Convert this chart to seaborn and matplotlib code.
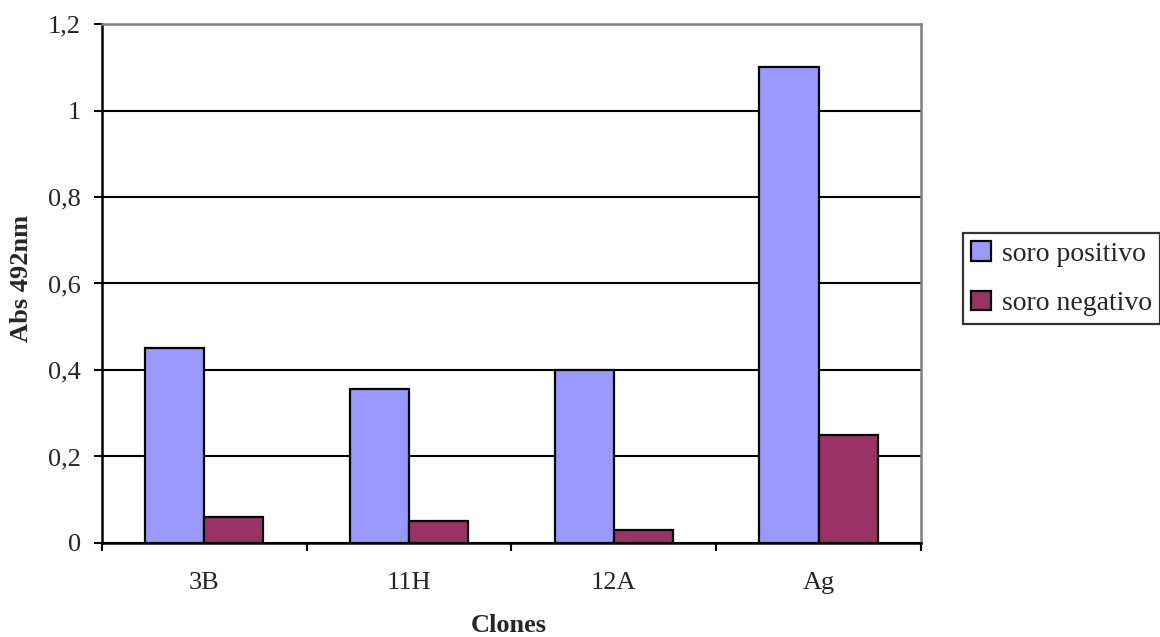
import matplotlib
matplotlib.use("Agg")
import matplotlib.pyplot as plt
import seaborn as sns
import pandas as pd
from matplotlib.patches import Patch

# Absorbance readings per clone
clones = ["3B", "11H", "12A", "Ag"]
soro_positivo = [0.45, 0.355, 0.40, 1.10]
soro_negativo = [0.06, 0.05, 0.03, 0.25]
series_names = ["soro positivo", "soro negativo"]
y_ticks = [0, 0.2, 0.4, 0.6, 0.8, 1.0, 1.2]
y_tick_labels = ["0", "0,2", "0,4", "0,6", "0,8", "1", "1,2"]

colors = ["#9999FF", "#993366"]

df = pd.DataFrame({
    "clone": clones * 2,
    "abs": soro_positivo + soro_negativo,
    "serie": [series_names[0]] * len(clones) + [series_names[1]] * len(clones),
})

sns.set_style("white")
plt.rcParams["font.family"] = ["Liberation Serif", "DejaVu Serif"]

fig = plt.figure(figsize=(11.6, 6.37), dpi=100)
ax = fig.add_axes([0.0879, 0.1476, 0.7060, 0.8147])

sns.barplot(data=df, x="clone", y="abs", hue="serie", order=clones,
            hue_order=series_names, palette=colors, saturation=1,
            width=0.577, edgecolor="black", linewidth=1.6, ax=ax,
            legend=False, errorbar=None, zorder=3)

ax.set_xlim(-0.5, len(clones) - 0.5)
ax.set_ylim(0, 1.2)
ax.set_yticks(y_ticks)
ax.set_yticklabels(y_tick_labels, fontsize=19)

# Category labels at the centres, tick marks at the category boundaries
ax.set_xticks([i - 0.5 for i in range(len(clones) + 1)])
ax.set_xticklabels([])
ax.set_xticks(range(len(clones)), minor=True)
ax.set_xticklabels(clones, minor=True, fontsize=19)
ax.tick_params(axis="x", which="major", direction="out", length=6,
               width=1.5, color="black", bottom=True)
ax.tick_params(axis="x", which="minor", length=0, pad=21)
ax.tick_params(axis="y", direction="out", length=6, width=1.5,
               color="black", left=True, pad=9)

ax.yaxis.grid(True, color="black", linewidth=1.5, zorder=0)
ax.xaxis.grid(False)
ax.set_axisbelow(True)

for side in ("left", "bottom"):
    ax.spines[side].set_color("black")
    ax.spines[side].set_linewidth(1.8)
for side in ("top", "right"):
    ax.spines[side].set_color("#808080")
    ax.spines[side].set_linewidth(1.8)

ax.set_xlabel("Clones", fontsize=19, fontweight="bold")
ax.xaxis.set_label_coords(0.497, -0.137)
ax.set_ylabel("Abs 492nm", fontsize=19, fontweight="bold")
ax.yaxis.set_label_coords(-0.084, 0.51)

handles = [Patch(facecolor=c, edgecolor="black", linewidth=1.6) for c in colors]
leg = fig.legend(handles, series_names, loc="upper left",
                 bbox_to_anchor=(0.830, 0.634), fontsize=20,
                 frameon=True, fancybox=False, edgecolor="black",
                 handlelength=0.7, handleheight=0.7, handletextpad=0.4,
                 borderpad=0.3, labelspacing=0.85, borderaxespad=0)
leg.get_frame().set_linewidth(1.6)

fig.savefig("out.png", dpi=100)
